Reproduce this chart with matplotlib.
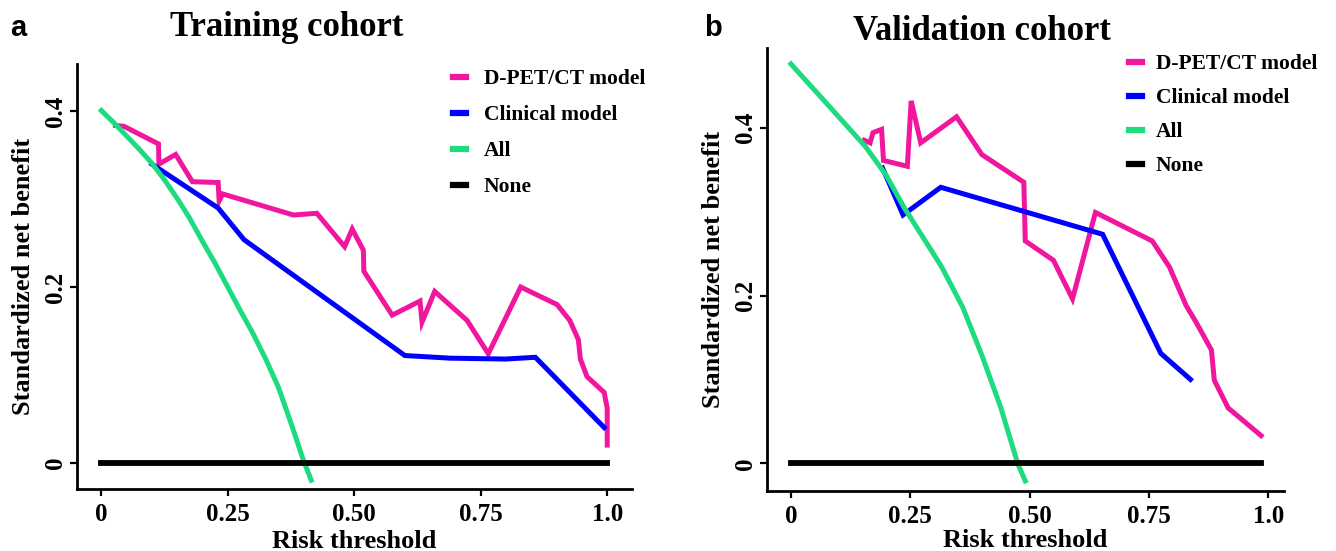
import matplotlib
matplotlib.use("Agg")
import matplotlib.pyplot as plt

# ---- data ----
# panel a: training cohort
a_all_x = [0, 0.025, 0.05, 0.075, 0.10, 0.125, 0.15, 0.175, 0.20, 0.225, 0.25, 0.275,
           0.30, 0.325, 0.35, 0.375, 0.40, 0.415]
a_all_y = [0.401, 0.387, 0.372, 0.357, 0.341, 0.322, 0.301, 0.278, 0.252, 0.227, 0.200,
           0.173, 0.147, 0.118, 0.086, 0.045, 0.002, -0.020]

a_dpet_x = [0.028, 0.045, 0.113, 0.114, 0.147, 0.180, 0.231, 0.233, 0.240, 0.380, 0.426,
            0.481, 0.496, 0.518, 0.519, 0.575, 0.630, 0.634, 0.659, 0.723, 0.765, 0.829,
            0.901, 0.926, 0.943, 0.947, 0.960, 0.994, 1.0, 1.0]
a_dpet_y = [0.384, 0.383, 0.363, 0.340, 0.351, 0.320, 0.319, 0.298, 0.306, 0.282, 0.284,
            0.246, 0.266, 0.242, 0.218, 0.168, 0.184, 0.160, 0.195, 0.162, 0.124, 0.200,
            0.180, 0.162, 0.140, 0.118, 0.098, 0.080, 0.062, 0.020]

a_clin_x = [0.100, 0.231, 0.282, 0.600, 0.689, 0.799, 0.858, 0.994]
a_clin_y = [0.340, 0.290, 0.254, 0.122, 0.119, 0.118, 0.120, 0.040]

a_none_x = [0, 1.0]
a_none_y = [0, 0]

# panel b: validation cohort
b_all_x = [0, 0.078, 0.157, 0.20, 0.237, 0.275, 0.316, 0.36, 0.400, 0.44, 0.475, 0.491]
b_all_y = [0.476, 0.427, 0.377, 0.343, 0.305, 0.271, 0.234, 0.186, 0.129, 0.066, 0.0, -0.021]

b_dpet_x = [0.154, 0.166, 0.172, 0.190, 0.194, 0.244, 0.252, 0.272, 0.347, 0.400, 0.488,
            0.491, 0.550, 0.590, 0.638, 0.757, 0.793, 0.828, 0.850, 0.881, 0.887, 0.916,
            0.985]
b_dpet_y = [0.385, 0.382, 0.394, 0.398, 0.361, 0.354, 0.432, 0.382, 0.413, 0.368, 0.335,
            0.265, 0.242, 0.196, 0.299, 0.265, 0.234, 0.188, 0.167, 0.135, 0.099, 0.066,
            0.033]

b_clin_x = [0.192, 0.235, 0.314, 0.653, 0.775, 0.837]
b_clin_y = [0.352, 0.296, 0.329, 0.273, 0.131, 0.100]

b_none_x = [0, 0.985]
b_none_y = [0, 0]

x_ticks = [0, 0.25, 0.5, 0.75, 1.0]
x_ticklabels = ["0", "0.25", "0.50", "0.75", "1.0"]
y_ticks = [0, 0.2, 0.4]
y_ticklabels = ["0", "0.2", "0.4"]
labels = ["D-PET/CT model", "Clinical model", "All", "None"]

pink = "#F0169E"
blue = "#0000FF"
green = "#1FDB80"

plt.rcParams["font.family"] = ["Liberation Serif", "DejaVu Serif"]
plt.rcParams["font.weight"] = "bold"

fig = plt.figure(figsize=(13.36, 5.51), dpi=100)

W, H = 1336, 551
axa = fig.add_axes([77 / W, 1 - 489 / H, 555 / W, 425 / H])
axb = fig.add_axes([767 / W, 1 - 491 / H, 517 / W, 443 / H])

panels = [
    (axa, a_dpet_x, a_dpet_y, a_clin_x, a_clin_y, a_all_x, a_all_y, a_none_x, a_none_y,
     (-0.048, 1.049), (-0.030, 0.454), (0.650, 1.0235), 0.74, 0.85, 3),
    (axb, b_dpet_x, b_dpet_y, b_clin_x, b_clin_y, b_all_x, b_all_y, b_none_x, b_none_y,
     (-0.050, 1.033), (-0.033, 0.495), (0.671, 1.020), 0.65, 0.65, 0.5),
]

for ax, dx, dy, cx, cy, gx, gy, nx, ny, xl, yl, leg, sp, tp, xpad in panels:
    lw = 3.6
    ax.plot(dx, dy, color=pink, lw=lw, label=labels[0], solid_joinstyle="miter")
    ax.plot(cx, cy, color=blue, lw=lw, label=labels[1], solid_joinstyle="miter")
    ax.plot(gx, gy, color=green, lw=lw, label=labels[2])
    ax.plot(nx, ny, color="black", lw=4.2, label=labels[3])
    ax.set_xlim(xl)
    ax.set_ylim(yl)
    ax.set_xticks(x_ticks)
    ax.set_xticklabels(x_ticklabels)
    ax.set_yticks(y_ticks)
    ax.set_yticklabels(y_ticklabels, rotation=90, va="center")
    ax.tick_params(labelsize=18, length=5, width=1.6, direction="out")
    ax.tick_params(axis="x", pad=5)
    ax.tick_params(axis="y", pad=2)
    for s in ["top", "right"]:
        ax.spines[s].set_visible(False)
    for s in ["left", "bottom"]:
        ax.spines[s].set_linewidth(2.0)
    ax.set_xlabel("Risk threshold", fontsize=19, fontweight="bold", labelpad=xpad)
    ax.set_ylabel("Standardized net benefit", fontsize=19, fontweight="bold", labelpad=7)
    lg = ax.legend(loc="upper left", bbox_to_anchor=leg, frameon=False,
                   fontsize=15.5, handlelength=0.6, handletextpad=tp,
                   labelspacing=sp, borderpad=0.2)
    for h in lg.get_lines():
        h.set_linewidth(4.5)

fig.text(287 / W, 1 - 27 / H, "Training cohort", fontsize=25, fontweight="bold",
         ha="center", va="center")
fig.text(982 / W, 1 - 31 / H, "Validation cohort", fontsize=25, fontweight="bold",
         ha="center", va="center")
fig.text(10 / W, 1 - 28 / H, "a", fontsize=21, fontweight="bold",
         family="Liberation Sans", ha="left", va="center")
fig.text(704 / W, 1 - 28 / H, "b", fontsize=21, fontweight="bold",
         family="Liberation Sans", ha="left", va="center")

fig.savefig("out.png", dpi=100)
